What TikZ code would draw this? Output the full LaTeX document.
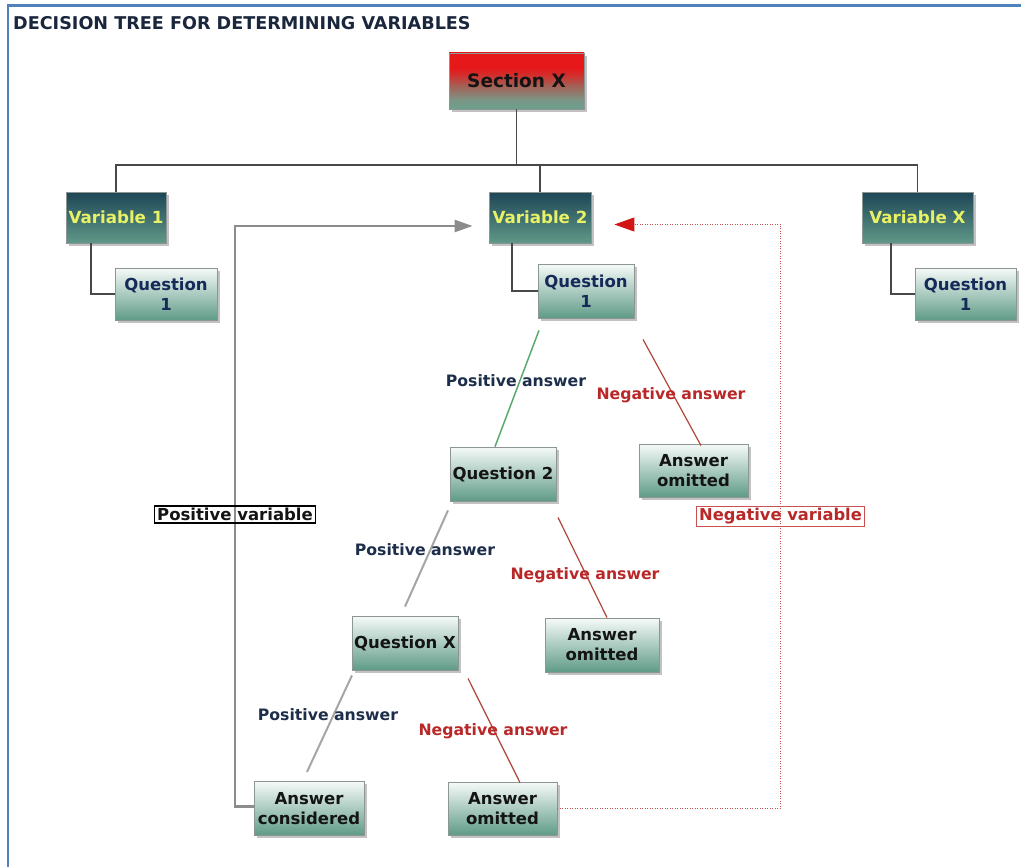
\documentclass[tikz,border=0pt]{standalone}
\usepackage{fontspec}
\setmainfont{DejaVu Sans}
\usetikzlibrary{arrows.meta,shadows,calc}

\definecolor{frameblue}{RGB}{79,129,189}
\definecolor{titleink}{RGB}{26,38,60}
\definecolor{edgegray}{RGB}{140,150,148}
\definecolor{secTop}{RGB}{230,24,26}
\definecolor{secUp}{RGB}{212,44,42}
\definecolor{secMid}{RGB}{165,96,86}
\definecolor{secLow}{RGB}{122,150,134}
\definecolor{secBot}{RGB}{108,160,142}
\definecolor{varTop}{RGB}{30,70,86}
\definecolor{varBot}{RGB}{96,152,136}
\definecolor{varInk}{RGB}{232,242,100}
\definecolor{qTop}{RGB}{246,250,248}
\definecolor{qBot}{RGB}{95,155,135}
\definecolor{navyInk}{RGB}{22,42,90}
\definecolor{darkInk}{RGB}{20,20,20}
\definecolor{posInk}{RGB}{28,46,74}
\definecolor{negInk}{RGB}{185,40,40}
\definecolor{negLine}{RGB}{176,70,55}
\definecolor{greenLine}{RGB}{90,170,112}
\definecolor{grayLine}{RGB}{165,165,165}
\definecolor{treeLine}{RGB}{72,72,72}
\definecolor{loopGray}{RGB}{140,140,140}
\definecolor{loopRed}{RGB}{200,80,80}
\definecolor{tipRed}{RGB}{210,20,20}

% red-to-sage fill of the section box (visible band is 25bp..75bp)
\pgfdeclareverticalshading{sectionshade}{100bp}{%
  color(0bp)=(secBot); color(25bp)=(secBot); color(33bp)=(secLow);
  color(46bp)=(secMid); color(56bp)=(secUp); color(62bp)=(secTop);
  color(100bp)=(secTop)}

\newcommand\setfs[2]{\fontsize{#1}{#2}\selectfont}

\begin{document}
\begin{tikzpicture}[x=1pt,y=1pt,
  shadowed/.style={drop shadow={shadow xshift=3pt,shadow yshift=-3pt,opacity=0.4,fill=black!60}},
  basebox/.style={draw=edgegray,line width=0.8pt,inner sep=0pt,align=center,shadowed},
  secbox/.style={basebox,shade,shading=sectionshade,
    font=\setfs{18.5}{22}\bfseries,text=darkInk},
  varbox/.style={basebox,top color=varTop,bottom color=varBot,
    font=\setfs{16.7}{20}\bfseries,text=varInk},
  qbox/.style={basebox,top color=qTop,bottom color=qBot,
    font=\setfs{16.5}{20}\bfseries,text=darkInk},
  q1box/.style={qbox,text=navyInk},
  tree/.style={draw=treeLine,line width=1.5pt},
  posline/.style={draw=grayLine,line width=2pt},
  firstpos/.style={draw=greenLine,line width=1.5pt},
  negline/.style={draw=negLine,line width=1.2pt},
  poslabel/.style={anchor=base,inner sep=0pt,font=\setfs{15.7}{19}\bfseries,text=posInk},
  neglabel/.style={anchor=base,inner sep=0pt,font=\setfs{15.7}{19}\bfseries,text=negInk},
  posloop/.style={draw=loopGray,line width=2.5pt,-{Triangle[length=18pt,width=12pt,fill=loopGray]}},
  negloop/.style={draw=loopRed,line width=1pt,dash pattern=on 1pt off 1.5pt,
    -{Triangle[length=20pt,width=14pt,fill=tipRed,color=tipRed]}},
]
\useasboundingbox (0,0) rectangle (1021,-867);

% page frame (left and top edges)
\draw[frameblue,line width=2.5pt] (8,-867) -- (8,-5.3) -- (1021,-5.3);

% heading
\node[anchor=base west,inner sep=0pt,font=\setfs{17.6}{21}\bfseries,text=titleink]
  (title) at (13,-30) {DECISION TREE FOR DETERMINING VARIABLES};

% top of the tree
\node[secbox,minimum width=135,minimum height=56] (sec) at (516.5,-81) {Section X};

\node[varbox,minimum width=100,minimum height=51] (var1) at (116,-217.5) {Variable 1};
\node[varbox,minimum width=102,minimum height=51] (var2) at (540,-217.5) {Variable 2};
\node[varbox,minimum width=111,minimum height=51] (varX) at (917.5,-217.5) {Variable X};

\node[q1box,minimum width=102,minimum height=52] (q1a) at (166,-294) {Question\\1};
\node[q1box,minimum width=96,minimum height=54] (q1b) at (586,-291) {Question\\1};
\node[q1box,minimum width=101,minimum height=52] (q1c) at (965.5,-294) {Question\\1};

% question chain under variable 2
\node[qbox,minimum width=106,minimum height=54] (q2) at (503,-474) {Question 2};
\node[qbox,minimum width=109,minimum height=53] (om1) at (693.5,-470.5) {Answer\\omitted};
\node[qbox,minimum width=106,minimum height=54] (qx) at (405,-643) {Question X};
\node[qbox,minimum width=114,minimum height=54] (om2) at (602,-645) {Answer\\omitted};
\node[qbox,minimum width=110,minimum height=54] (cons) at (309,-808.3) {Answer\\considered};
\node[qbox,minimum width=109,minimum height=53] (om3) at (502.5,-808.5) {Answer\\omitted};

% tree connectors
\coordinate (bus) at (0,-165);
\draw[tree] (sec.south) -- (sec.south |- bus);
\draw[tree] (var1.north) -- (var1.north |- bus) -- (varX.north |- bus) -- (varX.north);
\draw[tree] (var2.north) -- (var2.north |- bus);
\draw[tree] ([xshift=-25pt]var1.south) |- (q1a.west);
\draw[tree] ([xshift=-28pt]var2.south) |- (q1b.west);
\draw[tree] ([xshift=-26.5pt]varX.south) |- (q1c.west);

% answer branches
\draw[firstpos] ($(q1b.south)+(-47,-12)$) -- ($(q2.north)+(-8,0)$);
\draw[negline] ($(q1b.south)+(57,-21)$) -- ($(om1.north)+(7.5,-2)$);
\draw[posline] ($(q2.south)+(-55,-9)$) -- ($(qx.north)+(0,9)$);
\draw[negline] ($(q2.south)+(55,-16)$) -- ($(om2.north)+(5,0)$);
\draw[posline] ($(qx.south)+(-53,-5)$) -- ($(cons.north)+(-2,9)$);
\draw[negline] ($(qx.south)+(63,-8)$) -- ($(om3.north)+(17.5,-1)$);

\node[poslabel] (pa1) at (516,-386) {Positive answer};
\node[neglabel] (na1) at (671,-399) {Negative answer};
\node[poslabel] (pa2) at (425,-555) {Positive answer};
\node[neglabel] (na2) at (585,-579) {Negative answer};
\node[poslabel] (pa3) at (328,-720) {Positive answer};
\node[neglabel] (na3) at (493,-735) {Negative answer};

% feedback loops
\coordinate (ptip) at ($(var2.west)+(-16,-8.5)$);
\coordinate (pturn) at (235,-500);
\draw[posloop] ([yshift=2pt]cons.west) -| (pturn) |- (ptip);

\coordinate (ntip) at ($(var2.east)+(23,-7)$);
\coordinate (nturn) at (780.7,-224.5);
\draw[negloop] (om3.east) -| (nturn) -- (ntip);

\node[draw=black,line width=1.6pt,inner xsep=2.5pt,inner ysep=2pt,
  font=\setfs{16.5}{20}\bfseries,text=darkInk] (pvar) at (235,-514.5) {Positive variable};
\node[draw=loopRed,line width=0.9pt,inner xsep=2.5pt,inner ysep=2pt,
  font=\setfs{16.3}{20}\bfseries,text=negInk] (nvar) at (780.5,-516.5) {Negative variable};
\end{tikzpicture}
\end{document}
